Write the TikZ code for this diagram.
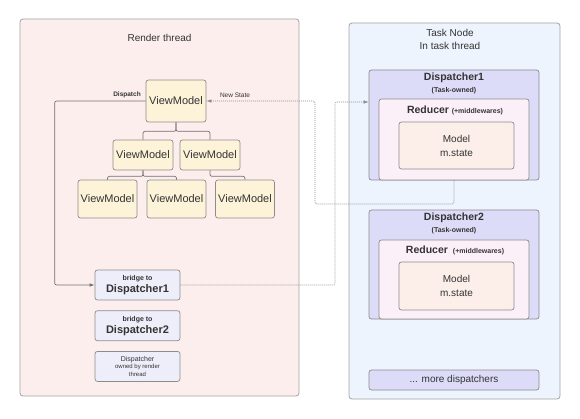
\documentclass[tikz,border=0pt]{standalone}
\usepackage{fontspec}
\setmainfont{Liberation Sans}
\usetikzlibrary{arrows.meta,positioning}
\definecolor{renderbg}{HTML}{FDEEEE}
\definecolor{taskbg}{HTML}{EEF4FD}
\definecolor{vmfill}{HTML}{FDF3D9}
\definecolor{bridgefill}{HTML}{EEEEFA}
\definecolor{dispfill}{HTML}{DCDCF8}
\definecolor{redfill}{HTML}{FCF0F8}
\definecolor{modelfill}{HTML}{FCEFEA}
\definecolor{txt}{HTML}{333333}
\definecolor{edgegray}{HTML}{8C8C8C}
\tikzset{region/.style={draw=edgegray!80, rounded corners=3pt, line width=0.8pt, inner sep=0pt},
  box/.style={draw=edgegray, rounded corners=2.5pt, line width=0.7pt, inner sep=0pt, text=txt, align=center},
  vm/.style={box, fill=vmfill, minimum width=60pt, minimum height=30pt, font=\fontsize{11}{12}\selectfont},
  bridge/.style={box, fill=bridgefill, minimum width=85pt, minimum height=30pt},
  disp/.style={box, fill=dispfill, minimum width=170pt},
  reducer/.style={box, fill=redfill, minimum width=150pt},
  model/.style={box, fill=modelfill, minimum width=115pt, font=\fontsize{10}{14}\selectfont},
  title/.style={text=txt, align=center, font=\fontsize{10}{13}\selectfont},
  tag/.style={text=txt, font=\fontsize{6.5}{8}\selectfont},
  tree/.style={draw=edgegray!80!black, line width=0.7pt, rounded corners=2pt},
  flow/.style={tree, -{Latex[length=5pt,width=3.5pt]}},
  dotflow/.style={draw=edgegray, line width=0.6pt, dash pattern=on 1pt off 1pt, rounded corners=2pt, -{Latex[length=5pt,width=3.5pt]}}}

\begin{document}
\begin{tikzpicture}[x=1pt, y=-1pt]
    \useasboundingbox (0,0) rectangle (580,419);
    \node[region, fill=renderbg, minimum width=279pt, minimum height=377pt] (render) at (159.5,207.5) {};
    \node[title] (rendert) at (159.5,38) {Render thread};
    \node[region, fill=taskbg, minimum width=211pt, minimum height=376pt] (task) at (454.5,211) {};
    \node[title] (taskt) at (450,39.5) {Task Node\\In task thread};

    \node[vm, minimum height=42pt] (vm0) at (176,101) {ViewModel};
    \node[vm] (vm1) at (143,155) {ViewModel};
    \node[vm] (vm2) at (210,155) {ViewModel};
    \node[vm, minimum width=59pt, minimum height=38pt] (vm3) at (107.5,199) {ViewModel};
    \node[vm, minimum width=59pt, minimum height=38pt] (vm4) at (176.5,199) {ViewModel};
    \node[vm, minimum width=59pt, minimum height=38pt] (vm5) at (245,199) {ViewModel};
    \draw[tree] (vm0.south) -- ++(0,9) -| (vm1.north);
    \draw[tree] (vm0.south) -- ++(0,9) -| (vm2.north);
    \draw[tree] (vm1.south) -- ++(0,6) -| (vm3.north);
    \draw[tree] (vm1.south) -- ++(0,6) -| (vm4.north);
    \draw[tree] (vm2.south) -- ++(0,6) -| (vm5.north);

    \node[bridge] (b1) at (137.5,285) {{\fontsize{7}{9}\selectfont\bfseries bridge to}\\{\fontsize{11}{13}\selectfont\bfseries Dispatcher1}};
    \node[bridge, below=10pt of b1] (b2) {{\fontsize{7}{9}\selectfont\bfseries bridge to}\\{\fontsize{11}{13}\selectfont\bfseries Dispatcher2}};
    \node[bridge, below=10pt of b2, font=\fontsize{6}{7.5}\selectfont] (own) {{\fontsize{7}{8}\selectfont Dispatcher}\\owned by render\\thread};

    \node[disp, minimum height=110pt] (d1) at (454,125) {};
    \node[text=txt, align=center] (d1t) at (454,83) {{\fontsize{10.5}{12}\selectfont\bfseries Dispatcher1}\\{\fontsize{7}{9}\selectfont\bfseries (Task-owned)}};
    \node[reducer, minimum height=81pt] (r1) at (454,139.5) {};
    \node[text=txt] (r1t) at (455,110) {{\fontsize{10.5}{12}\selectfont\bfseries Reducer} {\fontsize{7}{9}\selectfont\bfseries (+middlewares)}};
    \node[model, minimum height=47pt] (m1) at (456.5,145.5) {Model\\m.state};

    \node[disp, minimum height=109pt] (d2) at (454,264.5) {};
    \node[text=txt, align=center] (d2t) at (454,223) {{\fontsize{10.5}{12}\selectfont\bfseries Dispatcher2}\\{\fontsize{7}{9}\selectfont\bfseries (Task-owned)}};
    \node[reducer, minimum height=79pt] (r2) at (454,279.5) {};
    \node[text=txt] (r2t) at (455,250) {{\fontsize{10.5}{12}\selectfont\bfseries Reducer}\enspace{\fontsize{7}{9}\selectfont\bfseries (+middlewares)}};
    \node[model, minimum height=48pt] (m2) at (456.5,286) {Model\\m.state};

    \node[disp, minimum height=20pt, font=\fontsize{10}{12}\selectfont] (more) at (454,380) {... more dispatchers};

    \draw[flow] (vm0.west) -- ++(-91,0) |- (b1.west);
    \node[tag, font=\fontsize{6.5}{8}\selectfont\bfseries] (dlab) at (127,95) {Dispatch};
    \coordinate (nscorner) at (315,204);
    \draw[dotflow] (r1.south) |- (nscorner) |- (vm0.east);
    \node[tag] (nslab) at (235,95) {New State};
    \coordinate (bcorner) at (335,102);
    \draw[dotflow] (b1.east) -| (bcorner) -- (bcorner -| d1.west);
\end{tikzpicture}
\end{document}
